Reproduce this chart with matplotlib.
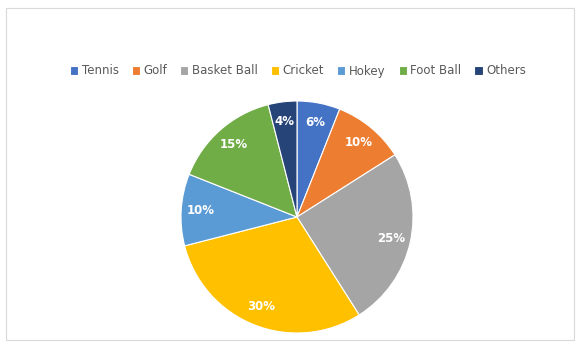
import matplotlib.pyplot as plt
from matplotlib.patches import Rectangle

# datos del grafico
deportes = ['Tennis', 'Golf', 'Basket Ball', 'Cricket', 'Hokey', 'Foot Ball', 'Others']
porcentajes = [6, 10, 25, 30, 10, 15, 4]
colores = ['#4472C4', '#ED7D31', '#A5A5A5', '#FFC000', '#5B9BD5', '#70AD47', '#264478']

W, H = 578, 344
fig = plt.figure(figsize=(W / 100, H / 100), dpi=100)
fig.patch.set_facecolor('white')

# marco del grafico
fig.add_artist(Rectangle((6 / W, 4 / H), 568 / W, 332 / H, transform=fig.transFigure,
                         fill=False, edgecolor='#d9d9d9', linewidth=0.8))

cx, cy, r = 297, 217, 116
ax = fig.add_axes([(cx - r) / W, (H - cy - r) / H, 2 * r / W, 2 * r / H])
wedges, _, autotexts = ax.pie(porcentajes, colors=colores, startangle=90, counterclock=False,
                              autopct='%1.0f%%', pctdistance=0.83,
                              wedgeprops=dict(edgecolor='white', linewidth=0.8),
                              textprops=dict(color='white', fontsize=8.5, fontweight='bold'))
ax.set_xlim(-1, 1)
ax.set_ylim(-1, 1)
ax.axis('off')

fig.legend(wedges, deportes, loc='center', bbox_to_anchor=(298 / W, 1 - 71 / H), ncol=7,
           frameon=False, fontsize=8.5, labelcolor='#595959', handlelength=0.7,
           handleheight=0.7, handletextpad=0.3, columnspacing=1.1)

plt.savefig('out.png', dpi=100)
